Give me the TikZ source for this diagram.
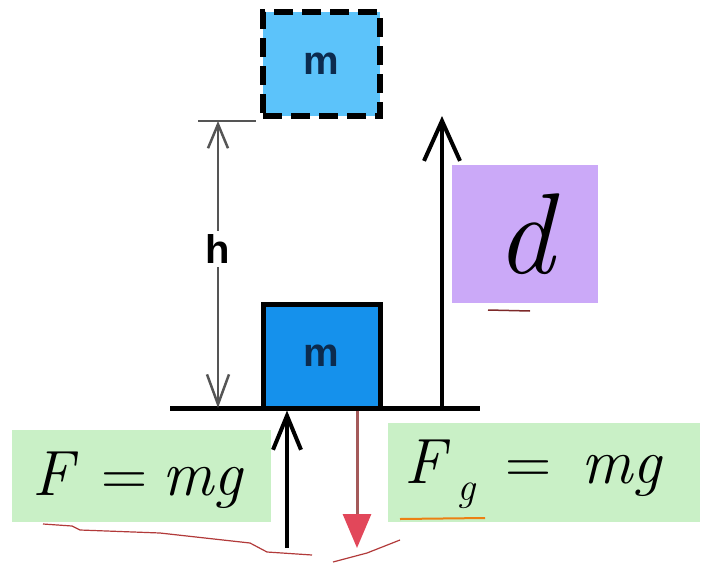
\documentclass[tikz,border=0pt]{standalone}
\usepackage{fontspec}
\newfontfamily\labelfont{Liberation Sans}
\usetikzlibrary{arrows.meta}
\definecolor{skyblock}{HTML}{5CC3FA}
\definecolor{block}{HTML}{1591EC}
\definecolor{navy}{HTML}{0C2B4E}
\definecolor{lilac}{HTML}{CBA9F8}
\definecolor{mint}{HTML}{C9F0C6}
\definecolor{rust}{HTML}{A45A5A}
\definecolor{rose}{HTML}{E2475A}
\definecolor{pen}{HTML}{B23A3A}
\definecolor{greyline}{HTML}{555555}

\begin{document}
\begin{tikzpicture}[x=1pt,y=-1pt,
  mass/.style={draw=black, minimum width=117pt, minimum height=104pt, inner sep=0pt,
    text=navy, font=\labelfont\bfseries\fontsize{40}{40}\selectfont},
  eqbox/.style={fill=mint, inner sep=0pt, text depth=0pt, font=\fontsize{64}{64}\selectfont\itshape},
  scribble/.style={pen, line width=1.2pt, line join=round}]
  \fill[white] (0,0) rectangle (709,565);
  \useasboundingbox (0,0) rectangle (709,565);

  % blocks and ground
  \node[mass, fill=skyblock, line width=6pt, dash pattern=on 19pt off 9pt] (mtop) at (321.5,64) {m};
  \coordinate (gl) at (170,408);
  \coordinate (gr) at (480,408);
  \node[mass, fill=block, line width=5pt] (mbot) at (321.5,356) {m};
  \draw[line width=5pt] (gl) -- (gr);

  % height h
  \coordinate (htop) at (218,121);
  \coordinate (tickl) at (198,121);
  \coordinate (tickr) at (256,121);
  \draw[greyline, line width=2.5pt] (tickl) -- (tickr);
  \draw[greyline, line width=2.5pt, {Straight Barb[length=24pt,width=20pt]}-{Straight Barb[length=30pt,width=22pt]}]
    (htop) -- (htop |- gl);
  \node[fill=white, inner sep=4pt, font=\labelfont\bfseries\fontsize{40}{40}\selectfont] (hlab) at (218,249) {h};

  % displacement d
  \coordinate (dtip) at (442,116);
  \draw[line width=4pt, -{Straight Barb[length=40pt,width=36pt]}] (dtip |- gl) -- (dtip);
  \node[fill=lilac, minimum width=146pt, minimum height=138pt, inner sep=0pt,
        font=\fontsize{115}{115}\selectfont\itshape] (dlab) at (525,234) {d};

  % forces
  \coordinate (nbot) at (287,548);
  \coordinate (wtip) at (357,548);
  \draw[line width=4pt, -{Straight Barb[length=34pt,width=28pt]}] (nbot) -- (nbot |- mbot.south);
  \draw[rust, line width=3pt, -{Triangle[length=34pt,width=28pt,fill=rose,color=rose]}] (wtip |- mbot.south) -- (wtip);
  \node[eqbox, minimum width=259pt, minimum height=92pt, text height=38pt] (feq) at (141.5,476)
    {F\hspace{28pt}\upshape=\hspace{15pt}\itshape mg\hspace*{8pt}};
  \node[eqbox, minimum width=312pt, minimum height=99pt, text height=21pt] (fgeq) at (544,472.5)
    {F\hspace{12pt}\raisebox{-17pt}{\fontsize{40}{40}\selectfont g}\hspace{30pt}\upshape=\hspace{30pt}\itshape mg\hspace*{22pt}};

  % red pen marks
  \draw[scribble] (43,524) -- (72,526) -- (80,530) -- (160,533) -- (250,543) -- (267,552) -- (312,555);
  \draw[scribble] (333,562) -- (367,553) -- (400,540);
  \draw[scribble, color=orange!70!brown, line width=2pt] (400,519) -- (485,518);
  \draw[scribble, color=pen!70!black, line width=1.5pt] (488,310) -- (530,311);
\end{tikzpicture}
\end{document}
